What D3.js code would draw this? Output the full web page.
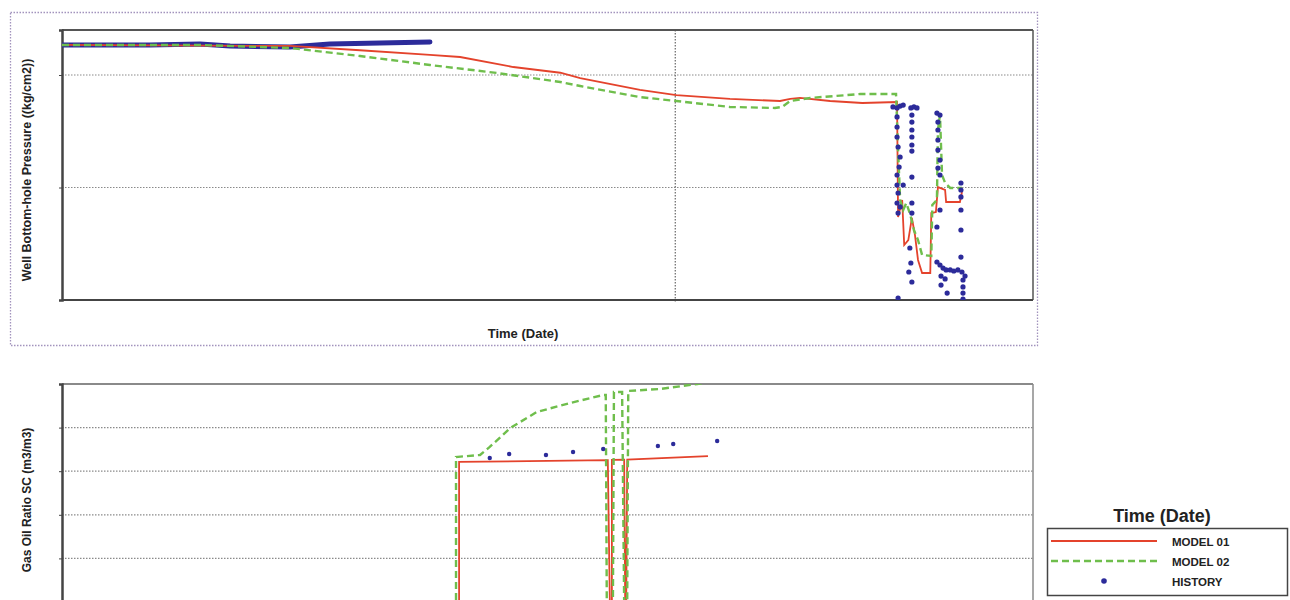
<!DOCTYPE html>
<html>
<head>
<meta charset="utf-8">
<script src="https://cdn.jsdelivr.net/npm/d3@7"></script>
<style>
  body { margin: 0; background: #fff; }
  svg { display: block; }
  text { font-family: "Liberation Sans", Arial, sans-serif; fill: #222; }
</style>
</head>
<body>
<svg id="chart" width="1290" height="600"></svg>
<script>
const width = 1290;
const height = 600;

// time in months from start, shared by both panels
const X_DOMAIN = [0, 190];
const X_GRID = [120];

// ---- well bottom-hole pressure (top panel) ----
const BHP_DOMAIN = [0, 240];
const BHP_TICKS = [0, 100, 200];

const bhpModel01 = [
  [0, 226.7], [44.6, 225.8], [58.3, 222], [72, 217.8], [77.9, 216], [88.3, 207.1],
  [97.5, 202], [101.4, 197.3], [113.1, 186.7], [120.2, 182.2], [130.7, 178.7],
  [140.5, 176.9], [142.5, 178.7], [144.4, 179.6], [150.3, 176.9], [156.6, 175.1],
  [163.4, 176], [163.6, 73.8], [164.4, 88.9], [164.8, 48.9], [165.6, 53.3],
  [166.3, 72.9], [166.9, 57.8], [167.5, 35.6], [168.3, 24], [169.9, 24],
  [170.1, 77.3], [171.0, 78.2], [171.4, 100.4], [172.8, 97.8], [173.0, 87.1],
  [175.7, 87.1], [176.1, 96]
];

const bhpModel02 = [
  [0, 226.7], [27, 226.7], [44.6, 224], [58.3, 216.9], [72, 208.9], [85.1, 201.8],
  [97.5, 193.8], [101.4, 190.2], [113.1, 180.4], [120.2, 176.9], [130.7, 171.6],
  [139.5, 170.7], [140.9, 171.6], [142.5, 176.9], [146.4, 179.6], [156.2, 183.1],
  [163.2, 183.1], [163.6, 133.3], [164.0, 88.9], [164.6, 80], [165.2, 86.2],
  [166.0, 75.6], [166.7, 62.2], [167.5, 53.3], [168.3, 40], [170.1, 39.1],
  [170.3, 84.4], [171.2, 88.9], [171.4, 151.1], [171.8, 164.4], [172.2, 111.1],
  [172.8, 104], [173.8, 99.6], [176.1, 99.6]
];

// early history is a continuous band of gauge readings
const bhpHistoryBand = [
  [0, 226.7], [17.2, 226.7], [27, 227.6], [32.9, 225.8], [44.6, 224.9],
  [52.4, 227.6], [62.2, 228.4], [72, 229.3]
];

const bhpHistory = [
  [162.6, 171.6], [163.4, 170.7], [164.0, 172.4], [164.6, 173.3], [163.4, 162.7],
  [163.4, 153.8], [163.4, 144.9], [163.6, 136], [164.0, 127.1], [163.8, 118.2],
  [163.4, 111.1], [163.4, 102.2], [164.6, 102.2], [163.6, 95.1], [163.4, 86.2],
  [164.0, 82.7], [163.6, 77.3], [163.6, 1.8],
  [166.1, 170.7], [166.7, 171.6], [167.3, 170.7], [166.3, 164.4], [166.3, 158.2],
  [166.3, 151.1], [166.3, 144.9], [166.3, 137.8], [166.3, 132.4], [166.3, 109.3],
  [166.3, 86.2], [166.3, 77.3], [165.9, 46.2], [166.1, 32.9], [165.7, 24.9], [166.3, 16],
  [171.2, 166.2], [171.8, 164.4], [171.4, 158.2], [171.4, 151.1], [171.4, 142.2],
  [171.4, 133.3], [171.8, 124.4], [171.4, 117.3], [171.8, 111.1], [171.8, 80], [171.2, 64.9],
  [171.2, 33.8], [171.8, 31.1], [172.4, 28.4], [173.0, 26.7], [173.8, 26.7],
  [174.5, 25.8], [175.3, 26.7], [176.1, 24.9], [172.0, 21.3], [172.8, 18.7],
  [172.0, 13.3], [173.2, 6.2],
  [175.9, 104], [175.9, 97.8], [175.9, 91.6], [175.9, 80], [175.9, 62.2],
  [175.9, 38.2], [176.3, 17.8], [176.3, 11.6], [176.3, 6.2], [176.3, 0.9], [176.7, 21.3]
];

// ---- gas oil ratio (bottom panel) ----
const GOR_DOMAIN = [0, 2500];
const GOR_TICKS = [0, 500, 1000, 1500, 2000];

const gorModel01 = [
  [0, 0], [77.7, 0], [77.7, 1606], [106.8, 1628], [107.2, 0], [107.6, 0],
  [107.6, 1630], [110.0, 1632], [110.2, 0], [110.4, 0], [110.6, 1634], [126.4, 1674]
];

const gorModel02 = [
  [0, 0], [77.1, 0], [77.1, 1663], [81.8, 1686], [83.7, 1778], [87.7, 1995],
  [92.9, 2179], [99.4, 2282], [105.9, 2374], [106.4, 2374], [106.6, 0], [107.8, 0],
  [108.0, 2408], [109.6, 2408], [110.0, 0], [110.6, 0], [110.8, 2420],
  [117.0, 2443], [124.3, 2500], [126.8, 2523]
];

const gorHistory = [
  [83.7, 1651], [87.5, 1697], [94.7, 1686], [100.0, 1720], [105.9, 1755],
  [116.6, 1789], [119.6, 1812], [128.2, 1846]
];

const legendItems = ["MODEL 01", "MODEL 02", "HISTORY"];

const RED = "#e4432c";
const GREEN = "#6fbe4c";
const NAVY = "#2c2b9a";

const svg = d3.select("#chart");

const plotLeft = 62, plotRight = 1033;
const x = d3.scaleLinear().domain(X_DOMAIN).range([plotLeft, plotRight]);

function panel(id, y0, y1, yDomain, yTicks, opts) {
  const y = d3.scaleLinear().domain(yDomain).range([y1, y0]);
  const g = svg.append("g");

  g.append("clipPath").attr("id", id)
    .append("rect")
    .attr("x", plotLeft).attr("y", y0)
    .attr("width", plotRight - plotLeft).attr("height", y1 - y0);

  // horizontal grid
  g.append("g")
    .selectAll("line")
    .data(yTicks.filter(d => d > yDomain[0]))
    .join("line")
    .attr("x1", plotLeft).attr("x2", plotRight)
    .attr("y1", d => y(d)).attr("y2", d => y(d))
    .attr("stroke", "#8a8a8a")
    .attr("stroke-width", 1.2)
    .attr("stroke-dasharray", "1.5,1.5");

  // vertical grid
  if (opts.xGrid) {
    g.append("g")
      .selectAll("line")
      .data(X_GRID)
      .join("line")
      .attr("x1", d => x(d)).attr("x2", d => x(d))
      .attr("y1", y0).attr("y2", y1 + 3)
      .attr("stroke", "#666")
      .attr("stroke-width", 1.2)
      .attr("stroke-dasharray", "1.5,1.5");
  }

  // frame
  g.append("line")
    .attr("x1", plotLeft).attr("x2", plotRight).attr("y1", y0).attr("y2", y0)
    .attr("stroke", opts.frame).attr("stroke-width", 2);
  g.append("line")
    .attr("x1", plotRight).attr("x2", plotRight).attr("y1", y0).attr("y2", y1)
    .attr("stroke", opts.frame).attr("stroke-width", 1.5);
  g.append("line")
    .attr("x1", plotLeft).attr("x2", plotRight).attr("y1", y1).attr("y2", y1)
    .attr("stroke", "#444").attr("stroke-width", 2);

  const yAxis = g.append("g")
    .attr("transform", `translate(${plotLeft},0)`)
    .call(d3.axisLeft(y).tickValues(yTicks).tickSize(3).tickFormat(""));
  yAxis.select(".domain").attr("stroke", "#444").attr("stroke-width", 2.5);
  yAxis.selectAll(".tick line").attr("stroke", "#444");

  const plot = g.append("g").attr("clip-path", `url(#${id})`);
  return { y, plot };
}

// ---- top panel ----
svg.append("rect")
  .attr("x", 10.5).attr("y", 12.5).attr("width", 1027).attr("height", 333)
  .attr("fill", "none")
  .attr("stroke", "#a293bd")
  .attr("stroke-width", 1.3)
  .attr("stroke-dasharray", "1.5,1.5");

const bhpPanel = panel("clipTop", 30, 300, BHP_DOMAIN, BHP_TICKS, { xGrid: true, frame: "#555" });

const lineTop = d3.line().x(d => x(d[0])).y(d => bhpPanel.y(d[1]));

bhpPanel.plot.append("path")
  .datum(bhpHistoryBand)
  .attr("d", lineTop)
  .attr("fill", "none")
  .attr("stroke", NAVY)
  .attr("stroke-width", 5)
  .attr("stroke-linecap", "round")
  .attr("stroke-linejoin", "round");

bhpPanel.plot.append("path")
  .datum(bhpModel01)
  .attr("d", lineTop)
  .attr("fill", "none")
  .attr("stroke", RED)
  .attr("stroke-width", 1.8);

bhpPanel.plot.append("path")
  .datum(bhpModel02)
  .attr("d", lineTop)
  .attr("fill", "none")
  .attr("stroke", GREEN)
  .attr("stroke-width", 2.4)
  .attr("stroke-dasharray", "7,4");

bhpPanel.plot.append("g")
  .selectAll("circle")
  .data(bhpHistory)
  .join("circle")
  .attr("cx", d => x(d[0]))
  .attr("cy", d => bhpPanel.y(d[1]))
  .attr("r", 2.6)
  .attr("fill", NAVY);

svg.append("text")
  .attr("transform", "translate(31,170) rotate(-90)")
  .attr("text-anchor", "middle")
  .attr("font-size", 12.5)
  .attr("font-weight", "bold")
  .text("Well Bottom-hole Pressure ((kg/cm2))");

svg.append("text")
  .attr("x", 523).attr("y", 338)
  .attr("text-anchor", "middle")
  .attr("font-size", 13)
  .attr("font-weight", "bold")
  .text("Time (Date)");

// ---- bottom panel ----
const gorPanel = panel("clipBot", 384, 602, GOR_DOMAIN, GOR_TICKS, { xGrid: false, frame: "#8a8a8a" });

const lineBot = d3.line().x(d => x(d[0])).y(d => gorPanel.y(d[1]));

gorPanel.plot.append("path")
  .datum(gorModel01)
  .attr("d", lineBot)
  .attr("fill", "none")
  .attr("stroke", RED)
  .attr("stroke-width", 1.8);

gorPanel.plot.append("path")
  .datum(gorModel02)
  .attr("d", lineBot)
  .attr("fill", "none")
  .attr("stroke", GREEN)
  .attr("stroke-width", 2.4)
  .attr("stroke-dasharray", "7,4");

gorPanel.plot.append("g")
  .selectAll("circle")
  .data(gorHistory)
  .join("circle")
  .attr("cx", d => x(d[0]))
  .attr("cy", d => gorPanel.y(d[1]))
  .attr("r", 2.2)
  .attr("fill", NAVY);

svg.append("text")
  .attr("transform", "translate(31,500) rotate(-90)")
  .attr("text-anchor", "middle")
  .attr("font-size", 12)
  .attr("font-weight", "bold")
  .text("Gas Oil Ratio SC (m3/m3)");

// ---- legend ----
svg.append("text")
  .attr("x", 1162).attr("y", 522)
  .attr("text-anchor", "middle")
  .attr("font-size", 18)
  .attr("font-weight", "bold")
  .text("Time (Date)");

const legend = svg.append("g").attr("transform", "translate(1047,528)");
legend.append("rect")
  .attr("x", 0.5).attr("y", 0.5).attr("width", 240).attr("height", 67)
  .attr("fill", "#fff")
  .attr("stroke", "#444")
  .attr("stroke-width", 1.5);

const rowY = [13, 33, 53];
const rows = legend.selectAll("g.row")
  .data(legendItems)
  .join("g")
  .attr("class", "row")
  .attr("transform", (d, i) => `translate(0,${rowY[i]})`);

rows.filter((d, i) => i < 2)
  .append("line")
  .attr("x1", 4).attr("x2", 110)
  .attr("stroke", (d, i) => i === 0 ? RED : GREEN)
  .attr("stroke-width", (d, i) => i === 0 ? 2 : 2.4)
  .attr("stroke-dasharray", (d, i) => i === 0 ? null : "7,4");

rows.filter((d, i) => i === 2)
  .append("circle")
  .attr("cx", 57).attr("r", 2.8)
  .attr("fill", NAVY);

rows.append("text")
  .attr("x", 125).attr("y", 5)
  .attr("font-size", 11.5)
  .attr("font-weight", "bold")
  .text(d => d);
</script>
</body>
</html>
